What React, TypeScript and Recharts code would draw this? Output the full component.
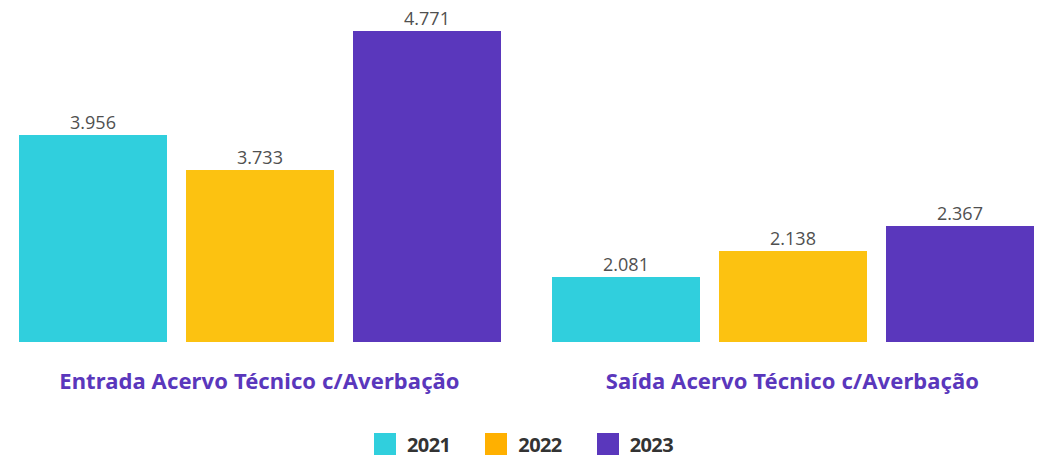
import React from "react";
import { BarChart, Bar, XAxis, YAxis, Legend, LabelList } from "recharts";

const categories = [
  "Entrada Acervo Técnico c/Averbação",
  "Saída Acervo Técnico c/Averbação",
];
const years = ["2021", "2022", "2023"];

// numbers printed above the bars
const printed2021 = [3956, 2081];
const printed2022 = [3733, 2138];
const printed2023 = [4771, 2367];

// bar heights as drawn in the original (they don't follow the printed
// numbers), read off the picture on the same scale as the tallest bar
const height2021 = [3175, 997];
const height2022 = [2639, 1396];
const height2023 = [4771, 1780];

const colors = ["#30CFDD", "#FCC211", "#5A37BC"];
const legendColors = ["#30CFDD", "#FFB000", "#5A37BC"];

const data = categories.map((name, i) => ({
  name,
  h2021: height2021[i],
  h2022: height2022[i],
  h2023: height2023[i],
  p2021: printed2021[i],
  p2022: printed2022[i],
  p2023: printed2023[i],
}));

const fmt = (v: any) =>
  String(v).replace(/\B(?=(\d{3})+(?!\d))/g, ".");

const CategoryTick = ({ x, y, payload }: any) => (
  <text
    x={x}
    y={y + 30}
    textAnchor="middle"
    dominantBaseline="central"
    fill="#5A37BC"
    fontFamily="'Noto Sans', sans-serif"
    fontWeight={700}
    fontSize={22}
    letterSpacing={0.1}
  >
    {payload.value}
  </text>
);

const LegendContent = () => (
  <div
    style={{
      height: 28,
      display: "flex",
      alignItems: "center",
      paddingLeft: 374,
      fontFamily: "'Open Sans', sans-serif",
      fontWeight: 700,
      fontSize: 20,
      letterSpacing: -0.6,
      color: "#333",
    }}
  >
    {years.map((y, i) => (
      <div
        key={y}
        style={{ display: "flex", alignItems: "center", marginRight: 35 }}
      >
        <span
          style={{
            width: 22,
            height: 22,
            background: legendColors[i],
            marginRight: 11,
            display: "inline-block",
          }}
        />
        <span>{y}</span>
      </div>
    ))}
  </div>
);

const labelProps = {
  position: "top" as const,
  offset: 6,
  formatter: fmt,
  fill: "#505050",
  fontSize: 18,
  fontFamily: "'Open Sans', sans-serif",
};

export default function App() {
  return (
    <div style={{ position: "absolute", left: 0, top: 0 }}>
      <BarChart
        width={1038}
        height={458}
        data={data}
        margin={{ top: 31, right: -21, bottom: 0, left: -7 }}
        barSize={148}
        barGap={19}
      >
        <XAxis
          dataKey="name"
          axisLine={false}
          tickLine={false}
          height={88}
          interval={0}
          tick={<CategoryTick />}
        />
        <YAxis hide domain={[0, 4771]} />
        <Legend
          verticalAlign="bottom"
          content={<LegendContent />}
          wrapperStyle={{ left: 0, width: 1038, bottom: 0 }}
        />
        <Bar dataKey="h2021" name={years[0]} fill={colors[0]} isAnimationActive={false}>
          <LabelList dataKey="p2021" {...labelProps} />
        </Bar>
        <Bar dataKey="h2022" name={years[1]} fill={colors[1]} isAnimationActive={false}>
          <LabelList dataKey="p2022" {...labelProps} />
        </Bar>
        <Bar dataKey="h2023" name={years[2]} fill={colors[2]} isAnimationActive={false}>
          <LabelList dataKey="p2023" {...labelProps} />
        </Bar>
      </BarChart>
    </div>
  );
}
